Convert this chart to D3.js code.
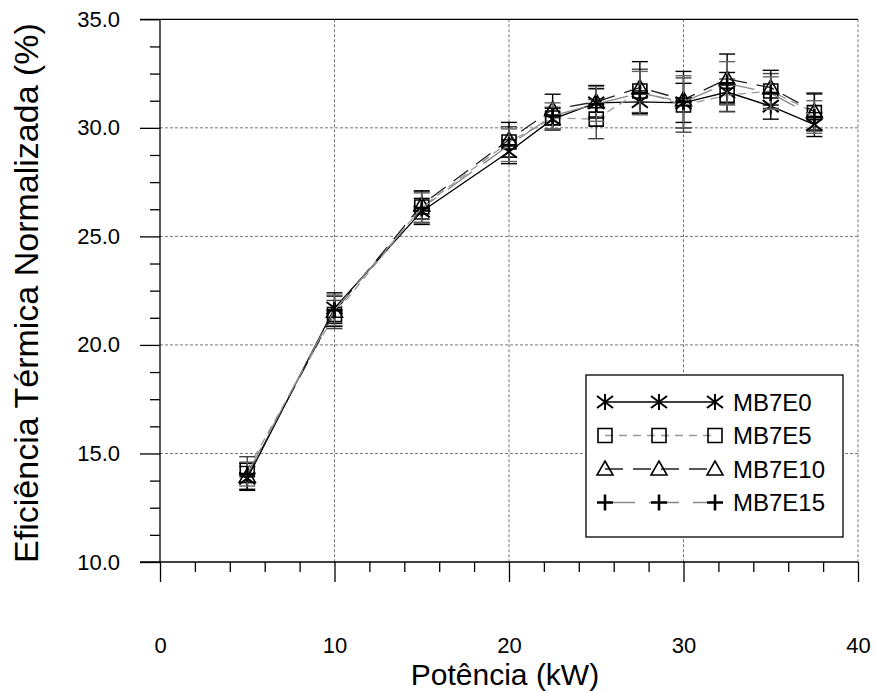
<!DOCTYPE html>
<html>
<head>
<meta charset="utf-8">
<script src="https://cdn.jsdelivr.net/npm/d3@7"></script>
<style>
  body { margin: 0; background: #fff; }
  text { font-family: Arial, "Liberation Sans", sans-serif; fill: #000; }
</style>
</head>
<body>
<div id="chart"></div>
<script>
// data
const potencia = [5, 10, 15, 20, 22.5, 25, 27.5, 30, 32.5, 35, 37.5];
const seriesNames = ["MB7E0", "MB7E5", "MB7E10", "MB7E15"];
const mb7e0 = [13.85, 21.7, 26.15, 28.9, 30.4, 31.15, 31.2, 31.15, 31.65, 31.0, 30.15];
const mb7e5 = [14.25, 21.4, 26.35, 29.35, 30.45, 30.4, 31.7, 31.05, 31.5, 31.7, 30.7];
const mb7e10 = [13.95, 21.55, 26.45, 29.45, 30.85, 31.2, 31.85, 31.3, 32.25, 31.85, 30.75];
const mb7e15 = [14.05, 21.6, 26.3, 29.2, 30.55, 31.1, 31.6, 31.2, 32.05, 31.6, 30.5];
const err0 = [0.55, 0.7, 0.6, 0.55, 0.5, 0.65, 0.5, 0.9, 0.9, 0.6, 0.55];
const err5 = [0.6, 0.65, 0.7, 0.7, 0.5, 0.9, 1.0, 1.25, 0.75, 0.8, 0.85];
const err10 = [0.6, 0.7, 0.65, 0.8, 0.7, 0.75, 1.2, 1.3, 1.15, 0.8, 0.85];
const err15 = [0.55, 0.7, 0.7, 0.75, 0.6, 0.8, 1.0, 1.2, 1.0, 0.75, 0.75];
const xTicks = [0, 10, 20, 30, 40];
const yTicks = [10, 15, 20, 25, 30, 35];

const W = 876, H = 691;
const svg = d3.select("#chart").append("svg")
    .attr("width", W)
    .attr("height", H);

const x = d3.scaleLinear().domain([0, 40]).range([160, 858]);
const y = d3.scaleLinear().domain([10, 35]).range([562, 19.3]);

// grid lines
const grid = svg.append("g").attr("stroke", "#777").attr("stroke-width", 1).attr("stroke-dasharray", "3,2");
grid.selectAll("line.gx").data(xTicks.slice(1)).join("line")
    .attr("x1", d => x(d)).attr("x2", d => x(d))
    .attr("y1", y(35)).attr("y2", y(10));
grid.selectAll("line.gy").data(yTicks.slice(1, -1)).join("line")
    .attr("x1", x(0)).attr("x2", x(40))
    .attr("y1", d => y(d)).attr("y2", d => y(d));

// top line
svg.append("line")
    .attr("x1", 140).attr("x2", x(40))
    .attr("y1", y(35)).attr("y2", y(35))
    .attr("stroke", "#000").attr("stroke-width", 1.3);

// x axis
const xAxis = svg.append("g")
    .attr("transform", `translate(0, ${y(10)})`)
    .call(d3.axisBottom(x).tickValues(xTicks).tickSize(20).tickPadding(55).tickFormat(d3.format("d")));
svg.append("g")
    .attr("transform", `translate(0, ${y(10)})`)
    .call(d3.axisBottom(x).tickValues(d3.range(2, 40, 2).filter(d => d % 10)).tickSize(10).tickFormat(""))
    .call(g => g.select(".domain").remove());

// y axis
const yAxis = svg.append("g")
    .attr("transform", `translate(${x(0)}, 0)`)
    .call(d3.axisLeft(y).tickValues(yTicks).tickSize(20).tickPadding(20).tickFormat(d3.format(".1f")));
svg.append("g")
    .attr("transform", `translate(${x(0)}, 0)`)
    .call(d3.axisLeft(y).tickValues(d3.range(11.25, 35, 1.25).filter(d => d % 5)).tickSize(10).tickFormat(""))
    .call(g => g.select(".domain").remove());

svg.selectAll(".tick line").attr("stroke", "#000").attr("stroke-width", 1.3);
svg.selectAll(".domain").attr("stroke", "#000").attr("stroke-width", 1.3);
xAxis.select(".domain").attr("d", `M140,0H${x(40)}`);
yAxis.select(".domain").attr("d", `M0,${y(35)}V${y(10)}`);
svg.selectAll(".tick text").style("font-size", "22px").style("font-family", "Arial, 'Liberation Sans', sans-serif");

// axis titles
svg.append("text")
    .attr("x", 505).attr("y", 685)
    .attr("text-anchor", "middle")
    .style("font-size", "30px")
    .text("Potência (kW)");
svg.append("text")
    .attr("transform", "translate(38, 293) rotate(-90)")
    .attr("text-anchor", "middle")
    .style("font-size", "34px")
    .text("Eficiência Térmica Normalizada (%)");

// series
const styles = [
    { name: seriesNames[0], values: mb7e0, err: err0, line: "#000", dash: null, lw: 1.3, errColor: "#000", marker: "asterisk" },
    { name: seriesNames[1], values: mb7e5, err: err5, line: "#999", dash: "8,6", lw: 1.3, errColor: "#444", marker: "square" },
    { name: seriesNames[2], values: mb7e10, err: err10, line: "#222", dash: "18,10", lw: 1.3, errColor: "#000", marker: "triangle" },
    { name: seriesNames[3], values: mb7e15, err: err15, line: "#888", dash: "30,14", lw: 1.3, errColor: "#666", marker: "plus" }
];

const markerPath = {
    asterisk: "M0,-8V8M-8,-6L8,6M-8,6L8,-6",
    square: "M-7,-7H7V7H-7Z",
    triangle: "M0,-8L8,6H-8Z",
    plus: "M0,-8V8M-8,0H8"
};
const markerWidth = { asterisk: 2, square: 1.6, triangle: 1.6, plus: 2.6 };

const line = d3.line().x(d => x(d[0])).y(d => y(d[1]));

styles.forEach(s => {
    const pts = potencia.map((p, i) => [p, s.values[i], s.err[i]]);
    svg.append("path")
        .datum(pts)
        .attr("d", line)
        .attr("fill", "none")
        .attr("stroke", s.line)
        .attr("stroke-width", s.lw)
        .attr("stroke-dasharray", s.dash);

    const eb = svg.append("g").attr("stroke", s.errColor).attr("stroke-width", 1.4);
    eb.selectAll("line.v").data(pts).join("line")
        .attr("x1", d => x(d[0])).attr("x2", d => x(d[0]))
        .attr("y1", d => y(d[1] - d[2])).attr("y2", d => y(d[1] + d[2]));
    eb.selectAll("line.top").data(pts).join("line")
        .attr("x1", d => x(d[0]) - 8).attr("x2", d => x(d[0]) + 8)
        .attr("y1", d => y(d[1] + d[2])).attr("y2", d => y(d[1] + d[2]));
    eb.selectAll("line.bot").data(pts).join("line")
        .attr("x1", d => x(d[0]) - 8).attr("x2", d => x(d[0]) + 8)
        .attr("y1", d => y(d[1] - d[2])).attr("y2", d => y(d[1] - d[2]));

    svg.append("g").selectAll("path").data(pts).join("path")
        .attr("transform", d => `translate(${x(d[0])}, ${y(d[1])})`)
        .attr("d", markerPath[s.marker])
        .attr("fill", "none")
        .attr("stroke", "#000")
        .attr("stroke-width", markerWidth[s.marker]);
});

// legend
const legend = svg.append("g");
legend.append("rect")
    .attr("x", 586).attr("y", 375).attr("width", 257).attr("height", 162)
    .attr("fill", "#fff").attr("stroke", "#000").attr("stroke-width", 1.3);
styles.forEach((s, i) => {
    const ly = 402 + i * 33.5;
    legend.append("line")
        .attr("x1", 605).attr("x2", 715).attr("y1", ly).attr("y2", ly)
        .attr("stroke", s.line).attr("stroke-width", s.lw).attr("stroke-dasharray", s.dash);
    [605, 659, 715].forEach(mx => {
        legend.append("path")
            .attr("transform", `translate(${mx}, ${ly})`)
            .attr("d", markerPath[s.marker])
            .attr("fill", "none").attr("stroke", "#000")
            .attr("stroke-width", markerWidth[s.marker]);
    });
    legend.append("text")
        .attr("x", 733).attr("y", ly)
        .attr("dy", "0.36em")
        .style("font-size", "24px")
        .text(s.name);
});
</script>
</body>
</html>
